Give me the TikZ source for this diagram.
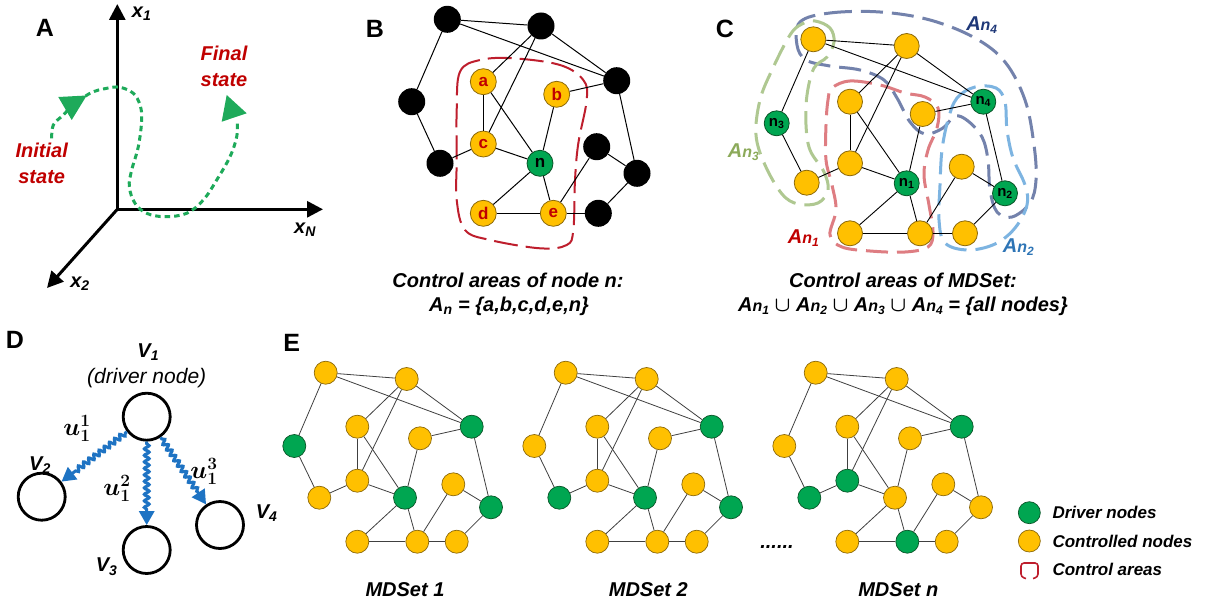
\documentclass[tikz,border=0pt]{standalone}
\usepackage{fontspec}
\setmainfont{Liberation Sans}
\usepackage{bm}
\usetikzlibrary{arrows.meta,decorations.pathmorphing}
\definecolor{yel}{RGB}{255,192,0}
\definecolor{yelD}{RGB}{140,105,10}
\definecolor{grn}{RGB}{0,166,81}
\definecolor{grnD}{RGB}{10,85,40}
\definecolor{dred}{RGB}{192,0,0}
\definecolor{bred}{RGB}{190,30,45}
\definecolor{trajgreen}{RGB}{30,170,90}
\definecolor{arrblue}{RGB}{30,115,195}
\definecolor{aRed}{RGB}{222,125,130}
\definecolor{aBlue}{RGB}{125,180,225}
\definecolor{aGreen}{RGB}{175,200,145}
\definecolor{aGray}{RGB}{115,130,172}
\definecolor{lNavy}{RGB}{31,56,120}
\definecolor{lGreen}{RGB}{140,170,90}
\definecolor{lBlue}{RGB}{46,117,182}
\makeatletter
\newcommand\EGraph[3]{%
  \foreach \i/\x/\y in {1/325.7/372.7, 2/406.7/379, 3/471.7/426.7, 4/294.3/446,
      5/357.3/426.7, 6/420/438.3, 7/357.3/480.7, 8/319.3/497.7, 9/405/497.7,
      10/453.3/484.3, 11/491/507.3, 12/357.3/541.7, 13/417.3/541.7, 14/456.7/541.7}{%
    \edef\tmp{\noexpand\in@{,\i,}{,#3,}}\tmp
    \ifin@\def\st{drvE}\else\def\st{ctrlE}\fi
    \node[\st] (#1\i) at (\x+#2,\y) {};
  }
  \foreach \a/\b in {1/2,1/3,2/3,2/5,2/7,1/4,4/8,8/7,5/7,5/9,7/9,6/3,6/9,3/11,10/11,10/13,9/12,9/13,12/13,13/14,14/11}{%
    \draw[edgeE] (#1\a) -- (#1\b);
  }
}
\makeatother
\newcommand\An[1]{A{\fontsize{16}{16}\selectfont n}\raisebox{-3pt}{\fontsize{12}{12}\selectfont #1}}
\begin{document}
\begin{tikzpicture}[x=1pt,y=-1pt,
  lab/.style={font=\fontsize{20}{26.5}\selectfont\bfseries\itshape},
  panel/.style={font=\fontsize{25}{25}\selectfont\bfseries},
  ctrlE/.style={circle,fill=yel,draw=yelD,line width=0.7pt,minimum size=23pt,inner sep=0pt},
  drvE/.style={ctrlE,fill=grn,draw=grnD},
  edgeE/.style={line width=0.8pt,draw=black!75},
  ctrlB/.style={circle,fill=yel,draw=yelD,line width=0.8pt,minimum size=26pt,inner sep=0pt,
     text=dred,font=\fontsize{17}{17}\selectfont\bfseries},
  drvB/.style={ctrlB,fill=grn,draw=grnD,text=black},
  blk/.style={circle,fill=black,minimum size=27pt,inner sep=0pt},
  ctrlC/.style={circle,fill=yel,draw=yelD,line width=0.8pt,minimum size=25pt,inner sep=0pt,
     font=\fontsize{15}{15}\selectfont\bfseries},
  drvC/.style={ctrlC,fill=grn,draw=grnD},
  edgeB/.style={line width=1pt,draw=black},
  axis/.style={line width=3pt,-{Triangle[length=16pt,width=16pt]}},
  traj/.style={draw=trajgreen,line width=3pt,dash pattern=on 5.5pt off 4pt},
  vnode/.style={circle,draw=black,line width=2.8pt,minimum size=47pt,inner sep=0pt},
  snakearrow/.style={draw=arrblue,line width=3pt,-{Triangle[length=14pt,width=15pt]},
     decorate,decoration={snake,amplitude=2.4pt,segment length=6.5pt,post length=15pt,pre length=2pt}},
  area/.style={line width=3pt,dash pattern=on 22pt off 9pt},
  ulab/.style={font=\fontsize{23}{23}\selectfont}
  ]
\useasboundingbox (0,0) rectangle (1206,607);
\fill[white] (0,0) rectangle (1206,607);

% ---------- Panel A ----------
\node[panel] (lA) at (45,28) {A};
\coordinate (O) at (117.3,209.3);
\coordinate (X1) at (117.3,4);
\coordinate (XN) at (323,209.3);
\coordinate (X2) at (47,288);
\draw[axis] (O) -- (X1);
\draw[axis] (O) -- (XN);
\draw[axis] (O) -- (X2);
\node[lab] (x1) at (141.7,14) {x\textsubscript{1}};
\node[lab] (xN) at (305,230) {x\textsubscript{N}};
\node[lab] (x2) at (80,283.3) {x\textsubscript{2}};
\draw[traj] plot[smooth,tension=0.6] coordinates {(51.7,138.3) (53.3,125) (63.3,115) (71.7,106.7) (90,93.3) (106.7,88.3) (120,87.3) (133.3,93.3) (140,105) (141.7,120) (138.3,146.7) (131.7,170) (129.3,186.7) (135,203.3) (146.7,213.3) (165,216.7) (186.7,213.3) (203.3,200) (216.7,180) (230,156.7) (236.7,136.7) (237.3,120)};
\fill[trajgreen] (58.3,97) -- (86.7,95.5) -- (71.7,120) -- cycle;
\fill[trajgreen] (221.7,121.7) -- (246.7,113.3) -- (226.7,95) -- cycle;
\node[lab,text=dred,align=center] (fin) at (224,66.5) {Final\\state};
\node[lab,text=dred,align=center] (ini) at (41.7,163.3) {Initial\\state};

% ---------- Panel B ----------
\node[panel] (lB) at (375,29) {B};
\draw[bred,line width=2pt,dash pattern=on 24pt off 8pt] plot[smooth cycle,tension=0.6] coordinates {(456.7,110) (460,71.7) (480,60) (513.3,58.3) (560,65) (583.3,80) (586.7,100) (578.3,143.3) (575,180) (573.3,230) (566.7,245) (540,248.3) (490,240) (465,230) (456.7,200) (456.7,160)};
\node[blk] (B1) at (447.3,19.3) {};
\node[blk] (B2) at (541,26) {};
\node[blk] (B3) at (616.7,80.7) {};
\node[blk] (B4) at (411.7,101.7) {};
\node[blk] (B5) at (440,163.3) {};
\node[blk] (B6) at (596.7,146.7) {};
\node[blk] (B7) at (637,173.3) {};
\node[blk] (B8) at (598.3,213.3) {};
\node[ctrlB] (Ba) at (483.3,81.7) {a};
\node[ctrlB] (Bb) at (556.7,94.3) {b};
\node[ctrlB] (Bc) at (483.3,144) {c};
\node[drvB] (Bn) at (540,163.3) {n};
\node[ctrlB] (Bd) at (483.3,213.3) {d};
\node[ctrlB] (Be) at (553.3,213.3) {e};
\foreach \a/\b in {B1/B2,B1/B3,B2/B3,B2/Ba,B2/Bc,B1/B4,B4/B5,B5/Bc,Ba/Bc,Ba/Bn,Bc/Bn,Bb/B3,Bb/Bn,B3/B7,B6/B7,B6/Be,Bn/Bd,Bn/Be,Bd/Be,Be/B8,B8/B7}{
  \draw[edgeB] (\a) -- (\b);
}
\node[lab] (capB1) at (508,280) {Control areas of node n:};
\node[lab] (capB2) at (509,306) {A\textsubscript{n} = \{a,b,c,d,e,n\}};

% ---------- Panel C ----------
\node[panel] (lC) at (725,29) {C};
\draw[area,aGray] plot[smooth cycle,tension=0.6] coordinates {(800,22) (830,13) (880,12) (930,20) (975,38) (1005,62) (1025,100) (1034,145) (1036,180) (1030,203) (1012,217) (997,212) (990,190) (988,160) (982,137) (968,121) (955,116) (943,128) (925,134) (910,122) (897,98) (884,80) (860,70) (830,66) (806,60) (797,45)};
\draw[area,aBlue] plot[smooth cycle,tension=0.6] coordinates {(948,120) (957,98) (975,87) (996,88) (1005,102) (1007,130) (1013,158) (1025,185) (1027,205) (1015,228) (995,244) (968,250) (945,243) (939,220) (940,185) (942,150)};
\draw[area,aRed] plot[smooth cycle,tension=0.6] coordinates {(832,88) (850,81) (880,85) (905,93) (925,97) (938,108) (937,128) (928,150) (924,175) (929,205) (933,232) (928,247) (905,252) (870,251) (842,247) (830,235) (836,210) (832,185) (826,160) (826,125) (828,100)};
\draw[area,aGreen] plot[smooth cycle,tension=0.6] coordinates {(815,21) (830,28) (834,42) (827,57) (814,68) (807,95) (806,125) (810,150) (824,172) (828,190) (818,203) (798,204) (782,194) (765,165) (756,135) (760,100) (772,70) (790,35) (802,24)};
\node[ctrlC] (C1) at (813.3,39.3) {};
\node[ctrlC] (C2) at (906.7,46) {};
\node[drvC] (C3) at (983.3,101.7) {n\textsubscript{4}};
\node[drvC] (C4) at (776.7,123.3) {n\textsubscript{3}};
\node[ctrlC] (C5) at (850,101.7) {};
\node[ctrlC] (C6) at (922.7,114) {};
\node[ctrlC] (C7) at (850,163.3) {};
\node[ctrlC] (C8) at (806.7,182.7) {};
\node[drvC] (C9) at (906.7,183.3) {n\textsubscript{1}};
\node[ctrlC] (C10) at (961.7,166.7) {};
\node[drvC] (C11) at (1005,193.3) {n\textsubscript{2}};
\node[ctrlC] (C12) at (850,233.3) {};
\node[ctrlC] (C13) at (920,233.3) {};
\node[ctrlC] (C14) at (965,233.3) {};
\foreach \a/\b in {1/2,1/3,2/3,2/5,2/7,1/4,4/8,8/7,5/7,5/9,7/9,6/3,6/9,3/11,10/11,10/13,9/12,9/13,12/13,13/14,14/11}{
  \draw[edgeB,line width=0.9pt] (C\a) -- (C\b);
}
\node[lab,text=lNavy] (lAn4) at (981.7,25) {\An4};
\node[lab,text=lGreen] (lAn3) at (743.3,152) {\An3};
\node[lab,text=dred] (lAn1) at (803.3,238.3) {\An1};
\node[lab,text=lBlue] (lAn2) at (1018.3,246.7) {\An2};
\node[lab] (capC1) at (903,280) {Control areas of MDSet:};
\node[lab] (capC2) at (903,306) {\An1 $\bm\cup$ \An2 $\bm\cup$ \An3 $\bm\cup$ \An4 = \{all nodes\}};

% ---------- Panel D ----------
\node[panel] (lD) at (15,340) {D};
\node[vnode] (V1) at (146.7,416.7) {};
\node[vnode] (V2) at (41.7,496.7) {};
\node[vnode] (V3) at (146.7,550) {};
\node[vnode] (V4) at (220,525) {};
\draw[snakearrow] (V1) -- (V2);
\draw[snakearrow] (V1) -- (V3);
\draw[snakearrow] (V1) -- (V4);
\node[lab] (tV1) at (148.3,351.7) {V\textsubscript{1}};
\node[font=\fontsize{21}{21}\selectfont\itshape] (tdrv) at (146.7,378.3) {(driver node)};
\node[lab] (tV2) at (40,465.5) {V\textsubscript{2}};
\node[lab] (tV3) at (106.7,566.7) {V\textsubscript{3}};
\node[lab] (tV4) at (266.7,513.3) {V\textsubscript{4}};
\node[ulab] (u1) at (77,428.3) {$\bm{u}_{\bm 1}^{\bm 1}$};
\node[ulab] (u2) at (117,488.3) {$\bm{u}_{\bm 1}^{\bm 2}$};
\node[ulab] (u3) at (204,471.7) {$\bm{u}_{\bm 1}^{\bm 3}$};

% ---------- Panel E ----------
\node[panel] (lE) at (291.7,343.3) {E};
\EGraph{g1-}{0}{3,4,9,11}
\EGraph{g2-}{240}{3,8,9,11}
\EGraph{g3-}{490}{3,7,8,13}
\node[lab] (m1) at (405,589.5) {MDSet 1};
\node[lab] (m2) at (648.3,590) {MDSet 2};
\node[lab] (m3) at (898.3,590) {MDSet n};
\node[lab] (dots) at (777,547) {......};

% legend
\node[drvE,minimum size=22pt] (lg1) at (1029.3,512.7) {};
\node[ctrlE,minimum size=22pt] (lg2) at (1029.3,541) {};
\draw[bred,line width=1.6pt,rounded corners=3pt] (1026,578.5) -- (1021,577) -- (1021,563) -- (1038,563) -- (1038,577) -- (1033,578.5);
\node[lab,anchor=west,font=\fontsize{17}{17}\selectfont\bfseries\itshape] (lt1) at (1049,512.7) {Driver nodes};
\node[lab,anchor=west,font=\fontsize{17}{17}\selectfont\bfseries\itshape] (lt2) at (1049,541) {Controlled nodes};
\node[lab,anchor=west,font=\fontsize{17}{17}\selectfont\bfseries\itshape] (lt3) at (1049,569.5) {Control areas};
\end{tikzpicture}
\end{document}
